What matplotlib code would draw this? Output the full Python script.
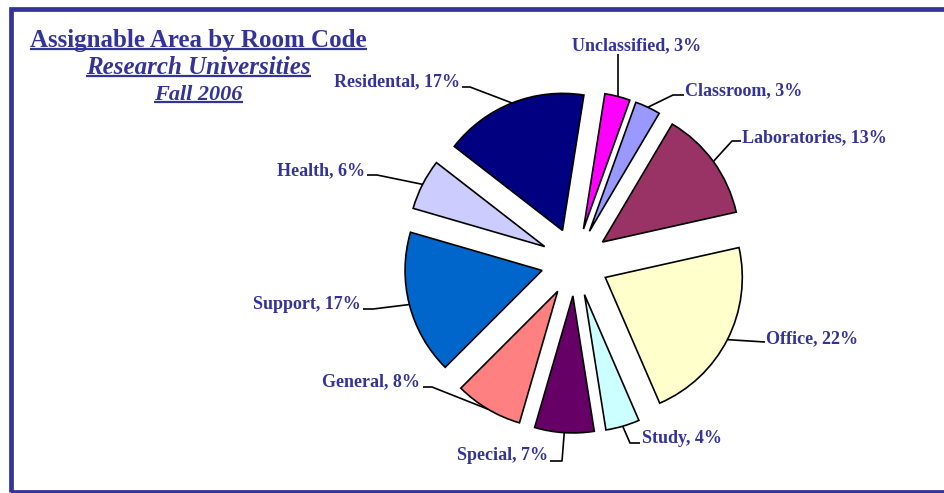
import matplotlib
matplotlib.use('Agg')
import matplotlib.pyplot as plt
import numpy as np
from matplotlib.patches import Rectangle

# ---- data ----
categories = ['Unclassified', 'Classroom', 'Laboratories', 'Office', 'Study',
              'Special', 'General', 'Support', 'Health', 'Residental']
shares = [3, 3, 13, 22, 4, 7, 8, 17, 6, 17]
colors = ['#FF00FF', '#9999FF', '#993366', '#FFFFCC', '#CCFFFF',
          '#660066', '#FF8080', '#0066CC', '#CCCCFF', '#000080']
title = 'Assignable Area by Room Code'
subtitle = 'Research Universities'
term = 'Fall 2006'

# ---- layout (pixel coordinates, y measured from top) ----
W, H = 945, 493
CX, CY = 575, 262
RADIUS = 137
EXPLODE = 34
START = 81
TXT = '#333399'
FONT = 'Liberation Serif'

# label text position (x, baseline y, ha) and leader path points (text side first)
label_layout = [
    ((637, 50, 'center'), [(617, 54)]),
    ((685, 95, 'left'), [(684, 95), (673, 95)]),
    ((742, 142, 'left'), [(741, 141), (732, 141)]),
    ((766, 343, 'left'), [(765, 342)]),
    ((642, 443, 'left'), [(640, 443), (630, 443)]),
    ((548, 460, 'right'), [(550, 461), (562, 461)]),
    ((420, 386, 'right'), [(423, 387), (432, 387)]),
    ((361, 309, 'right'), [(363, 309), (373, 309)]),
    ((365, 175, 'right'), [(367, 175), (377, 175)]),
    ((460, 86, 'right'), [(462, 87), (470, 87)]),
]


def Y(y):
    return H - y


fig = plt.figure(figsize=(W / 100, H / 100), dpi=100)
ax = fig.add_axes([0, 0, 1, 1])

wedges, _ = ax.pie(shares, colors=colors, startangle=START, counterclock=False,
                   radius=RADIUS, center=(CX, Y(CY)),
                   explode=[EXPLODE] * len(shares),
                   wedgeprops=dict(edgecolor='black', linewidth=1.2),
                   frame=True)
ax.set_xlim(0, W)
ax.set_ylim(0, H)
ax.set_aspect('auto')
ax.axis('off')

# frame
ax.add_patch(Rectangle((10.5, Y(491.5)), 960, 491.5 - 9, fill=False,
                       edgecolor='#333399', linewidth=3.4, clip_on=False))

# labels and leader lines
for w, cat, val, ((tx, ty, ha), path) in zip(wedges, categories, shares, label_layout):
    mid = np.deg2rad(0.5 * (w.theta1 + w.theta2))
    ax0 = w.center[0] + w.r * np.cos(mid)
    ay0 = w.center[1] + w.r * np.sin(mid)
    xs = [p[0] for p in path] + [ax0]
    ys = [Y(p[1]) for p in path] + [ay0]
    if len(path) == 1 and ha == 'center':
        xs = [ax0, ax0]
        ys = [Y(path[0][1]), ay0]
    ax.plot(xs, ys, color='black', lw=1.2, solid_capstyle='butt')
    ax.text(tx, Y(ty), f'{cat}, {val}%', ha=ha, va='baseline', color=TXT,
            fontsize=13, fontweight='bold', family=FONT)

# titles with underline
heads = [
    (title, 47, 18, 'normal'),
    (subtitle, 74, 18, 'italic'),
    (term, 100, 16, 'italic'),
]
texts = []
for s, base, fs, st in heads:
    t = ax.text(198.5, Y(base), s, ha='center', va='baseline', color=TXT,
                fontsize=fs, fontweight='bold', fontstyle=st, family=FONT)
    texts.append((t, base))

fig.canvas.draw()
r = fig.canvas.get_renderer()
inv = ax.transData.inverted()
for t, base in texts:
    bb = t.get_window_extent(renderer=r)
    (x0, _), (x1, _) = inv.transform([[bb.x0, bb.y0], [bb.x1, bb.y1]])
    ax.plot([x0, x1], [Y(base + 2), Y(base + 2)], color=TXT, lw=1.6,
            solid_capstyle='butt')

fig.savefig('out.png', dpi=100)
